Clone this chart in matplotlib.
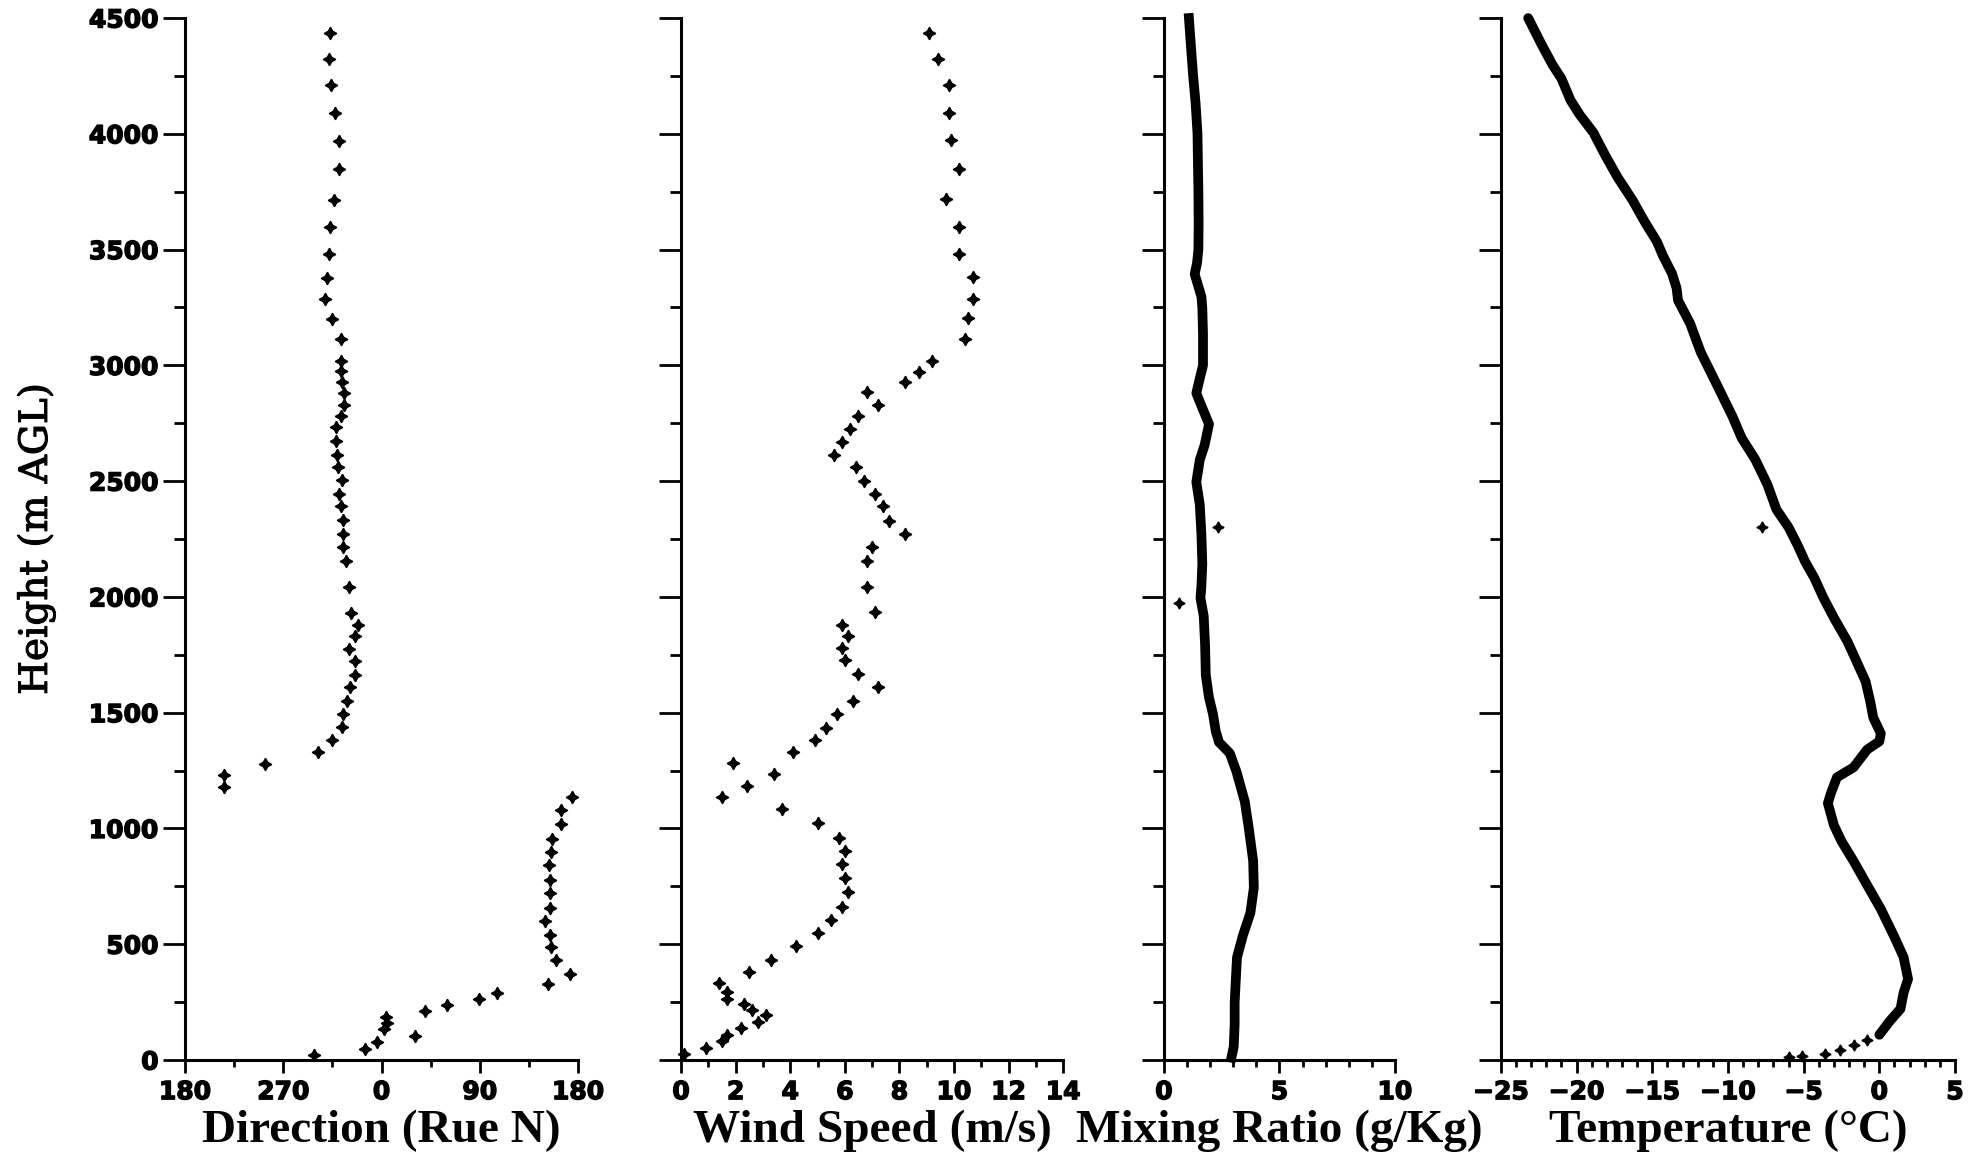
import matplotlib
matplotlib.use("Agg")
import matplotlib.pyplot as plt
import matplotlib.patheffects as pe
import numpy as np
from matplotlib.ticker import MultipleLocator, FixedLocator, FixedFormatter

# --- wind direction (deg true) vs height (m AGL)
dir_h = [4437, 4322, 4209, 4089, 3971, 3850, 3716, 3598, 3483, 3379, 3288, 3202,
         3112, 3020, 2977, 2928, 2880, 2831, 2781, 2732, 2673, 2612, 2563, 2505,
         2445, 2394, 2333, 2272, 2216, 2155, 2045, 1931, 1877, 1831, 1775, 1724,
         1665, 1611, 1551, 1494, 1437, 1380, 1330, 1278, 1231, 1180, 1135, 1081,
         1019, 955, 900, 841, 777, 720, 656, 601, 542, 487, 432, 373, 328, 288,
         264, 238, 212, 187, 159, 135, 102, 80, 47, 22]
dir_deg = [313, 312, 314, 317, 321, 321, 316, 313, 312, 310, 308, 315,
           323, 323, 323, 324, 326, 326, 323, 318, 318, 319, 320, 324,
           321, 323, 325, 325, 325, 327, 330, 332, 338, 336, 330, 336,
           336, 331, 328, 325, 324, 315, 302, 253, 216, 216, 174, 164,
           164, 156, 155, 153, 154, 154, 154, 150, 154, 155, 160, 173, 152, 106,
           89, 60, 40, 4, 5, 2, 31, 356, 345, 298]

# --- wind speed (m/s) vs height
spd_h = [4437, 4322, 4209, 4089, 3974, 3847, 3718, 3598, 3483, 3383, 3288, 3204,
         3115, 3021, 2972, 2928, 2885, 2831, 2781, 2727, 2670, 2612, 2563, 2502,
         2446, 2394, 2328, 2272, 2217, 2157, 2045, 1934, 1879, 1833, 1779, 1726,
         1667, 1612, 1552, 1493, 1436, 1381, 1331, 1281, 1234, 1183, 1138, 1083,
         1024, 959, 903, 847, 786, 726, 660, 603, 547, 491, 434, 379, 333, 295,
         264, 241, 216, 193, 166, 138, 109, 84, 53, 25]
spd = [9.1, 9.4, 9.8, 9.8, 9.9, 10.2, 9.7, 10.2, 10.2, 10.7, 10.7, 10.5,
       10.4, 9.2, 8.7, 8.2, 6.8, 7.2, 6.5, 6.2, 5.9, 5.6, 6.4, 6.7,
       7.1, 7.4, 7.6, 8.2, 7.0, 6.8, 6.8, 7.1, 5.9, 6.1, 5.9, 6.0,
       6.5, 7.2, 6.3, 5.7, 5.3, 4.9, 4.1, 1.9, 3.4, 2.4, 1.5, 3.7,
       5.0, 5.8, 6.0, 5.9, 6.0, 6.1, 5.9, 5.5, 5.0, 4.2, 3.3, 2.5, 1.4, 1.7,
       1.7, 2.3, 2.6, 3.1, 2.8, 2.2, 1.7, 1.5, 0.9, 0.1]

# --- mixing ratio (g/kg) vs height
mr_h = [4500, 4388, 4253, 4131, 4003, 3875, 3753, 3618, 3500, 3442, 3394, 3297,
        3249, 3137, 3000, 2944, 2880, 2816, 2746, 2656, 2592, 2496, 2399, 2271,
        2143, 2046, 1995, 1918, 1790, 1662, 1565, 1495, 1421, 1373, 1325, 1245,
        1116, 995, 860, 744, 635, 539, 443, 347, 247, 154, 58, 10]
mr = [1.08, 1.16, 1.26, 1.37, 1.45, 1.47, 1.49, 1.50, 1.49, 1.43, 1.33, 1.62,
      1.66, 1.69, 1.69, 1.55, 1.40, 1.66, 1.95, 1.76, 1.55, 1.40, 1.55, 1.62,
      1.66, 1.62, 1.58, 1.72, 1.78, 1.81, 1.95, 2.12, 2.24, 2.38, 2.85, 3.14,
      3.50, 3.68, 3.86, 3.89, 3.74, 3.42, 3.16, 3.11, 3.06, 3.06, 3.02, 2.92]
mr_out_h = [2300, 1973]
mr_out = [2.34, 0.64]

# --- temperature (deg C) vs height
t_h = [4500, 4384, 4299, 4238, 4145, 4083, 4006, 3906, 3813, 3713, 3620, 3535,
       3474, 3397, 3335, 3281, 3181, 3057, 2965, 2872, 2779, 2687, 2594, 2486,
       2378, 2301, 2224, 2152, 2083, 1997, 1910, 1807, 1721, 1634, 1548, 1479,
       1410, 1376, 1341, 1264, 1221, 1152, 1109, 1014, 945, 859, 755, 652,
       531, 445, 350, 290, 221, 169, 109]
t_c = [-23.2, -22.3, -21.6, -21.0, -20.4, -19.8, -18.9, -18.1, -17.3, -16.3, -15.5, -14.7,
       -14.3, -13.7, -13.4, -13.3, -12.5, -11.8, -11.1, -10.4, -9.7, -9.1, -8.2, -7.4,
       -6.8, -6.0, -5.4, -4.9, -4.3, -3.7, -3.0, -2.1, -1.5, -0.9, -0.6, -0.4,
       0.1, 0.0, -0.8, -1.7, -2.8, -3.2, -3.4, -3.0, -2.5, -1.7, -0.8, 0.1,
       1.0, 1.6, 1.9, 1.6, 1.4, 0.7, 0.0]
t_sfc_h = [86, 66, 45, 28, 19, 14]
t_sfc = [-0.8, -1.7, -2.6, -3.6, -5.1, -6.0]
t_out_h = [2301]
t_out = [-7.75]

plt.rcParams["font.family"] = "DejaVu Sans"
plt.rcParams["font.weight"] = "bold"
plt.rcParams["xtick.labelsize"] = 18
plt.rcParams["ytick.labelsize"] = 18

LABEL_FONT = dict(family="Liberation Serif", weight="bold", size=34)
STAR = (4, 1, 0)
HEAVY = [pe.withStroke(linewidth=1.0, foreground="black")]

fig = plt.figure(figsize=(19.88, 11.65), dpi=100)
bottom, height = 0.0901, 0.8944
boxes = [(0.0931, 0.1977), (0.3426, 0.1922), (0.5855, 0.1162), (0.7550, 0.2284)]
axes = [fig.add_axes([l, bottom, w, height]) for l, w in boxes]


def style(ax, show_y):
    for s in ["top", "right"]:
        ax.spines[s].set_visible(False)
    for s in ["left", "bottom"]:
        ax.spines[s].set_linewidth(2.2)
    ax.set_ylim(0, 4500)
    ax.yaxis.set_major_locator(MultipleLocator(500))
    ax.yaxis.set_minor_locator(MultipleLocator(250))
    ax.tick_params(axis="y", which="major", length=16, width=2.0, direction="out", pad=3)
    ax.tick_params(axis="y", which="minor", length=8, width=2.0, direction="out")
    ax.tick_params(axis="x", which="major", length=9.5, width=2.0, direction="out", pad=5)
    ax.tick_params(axis="x", which="minor", length=5, width=2.0, direction="out")
    if not show_y:
        ax.tick_params(axis="y", labelleft=False)
    for lab in ax.get_xticklabels() + ax.get_yticklabels():
        lab.set_path_effects(HEAVY)


# panel 1: direction, axis runs 180 -> 360/0 -> 180
ax = axes[0]
d = np.array(dir_deg, dtype=float)
ax.plot(np.where(d < 180, d + 360, d), dir_h, ls="none", marker=STAR, ms=9, color="black")
ax.set_xlim(180, 540)
ax.xaxis.set_major_locator(FixedLocator([180, 270, 360, 450, 540]))
ax.xaxis.set_major_formatter(FixedFormatter(["180", "270", "0", "90", "180"]))
ax.xaxis.set_minor_locator(MultipleLocator(45))
style(ax, True)
ax.set_xlabel("Direction (Rue N)", fontdict=LABEL_FONT, labelpad=4)
ylab = ax.set_ylabel("Height (m AGL)", family="DejaVu Serif", weight="normal", size=28)
ylab.set_path_effects([pe.withStroke(linewidth=0.8, foreground="black")])
ax.yaxis.set_label_coords(-0.33, 0.5)

# panel 2: wind speed
ax = axes[1]
ax.plot(spd, spd_h, ls="none", marker=STAR, ms=9, color="black")
ax.set_xlim(0, 14)
ax.xaxis.set_major_locator(MultipleLocator(2))
ax.xaxis.set_minor_locator(MultipleLocator(1))
style(ax, False)
ax.set_xlabel("Wind Speed (m/s)", fontdict=LABEL_FONT, labelpad=4)

# panel 3: mixing ratio
ax = axes[2]
ax.plot(mr, mr_h, color="black", lw=7, solid_joinstyle="round")
ax.plot(mr_out, mr_out_h, ls="none", marker=STAR, ms=8, color="black")
ax.set_xlim(0, 10)
ax.xaxis.set_major_locator(MultipleLocator(5))
ax.xaxis.set_minor_locator(MultipleLocator(1))
style(ax, False)
ax.set_xlabel("Mixing Ratio (g/Kg)", fontdict=LABEL_FONT, labelpad=4)

# panel 4: temperature
ax = axes[3]
ax.plot(t_c, t_h, color="black", lw=7, solid_joinstyle="round", solid_capstyle="round")
ax.plot(t_sfc, t_sfc_h, ls="none", marker=STAR, ms=8, color="black")
ax.plot(t_out, t_out_h, ls="none", marker=STAR, ms=8, color="black")
ax.set_xlim(-25, 5)
ax.xaxis.set_major_locator(MultipleLocator(5))
ax.xaxis.set_minor_locator(MultipleLocator(1))
style(ax, False)
ax.set_xlabel("Temperature (°C)", fontdict=LABEL_FONT, labelpad=4)

for ax in axes:
    for line in ax.get_lines():
        line.set_clip_on(False)

fig.savefig("out.png", dpi=100)
